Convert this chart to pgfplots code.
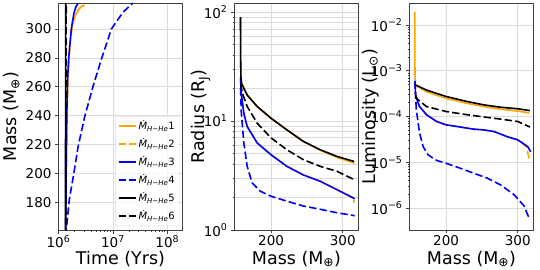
\documentclass[border=0pt]{standalone}
\usepackage{pgfplots}
\pgfplotsset{compat=1.18}
\usepackage{fontspec}
\setmainfont{DejaVu Sans}
\definecolor{mplorange}{HTML}{FFA500}
\definecolor{mplblue}{HTML}{0000FF}
\pgfplotsset{
  base/.style={
    scale only axis, width=124pt, height=227pt,
    axis line style={draw=black!75, line width=0.8pt},
    xmajorgrids, ymajorgrids,
    major grid style={draw=black!14, line width=0.8pt},
    minor grid style={draw=black!14, line width=0.8pt},
    tick align=outside, major tick length=3.5pt, minor tick length=2pt,
    every tick/.style={black!75, line width=0.8pt},
    xtick pos=bottom, ytick pos=left,
    ticklabel style={font=\fontsize{13.5}{16}\selectfont},
    xticklabel style={inner sep=1pt, yshift=-0.5pt},
    every axis x label/.style={at={(axis description cs:0.5,-0.15)}, anchor=base, inner sep=0pt, font=\fontsize{17.5}{20}\selectfont},
    /pgf/number format/assume math mode=true,
    every axis plot/.append style={line width=1.6pt},
  },
  ylab/.style={every axis y label/.style={at={(axis description cs:#1,0.5)}, anchor=base, inner sep=0pt, rotate=90, font=\fontsize{17.5}{20}\selectfont}},
  s1/.style={mplorange, solid},
  s2/.style={mplorange, dash pattern=on 7.4pt off 3.2pt},
  s3/.style={mplblue, solid},
  s4/.style={mplblue, dash pattern=on 7.4pt off 3.2pt},
  s5/.style={black, solid},
  s6/.style={black, dash pattern=on 7.4pt off 3.2pt},
}
\begin{document}
\begin{tikzpicture}
\useasboundingbox (0,0) rectangle (540pt,270pt);
% ---------------- Panel 1 ----------------
\begin{axis}[base, ylab=-0.337, at={(58.5pt,40pt)}, anchor=south west,
  xmode=log, xmin=1e6, xmax=1.9e8, ymin=161, ymax=318,
  xtick={1e6,1e7,1e8},
  xticklabels={10\textsuperscript{6},10\textsuperscript{7},10\textsuperscript{8}},
  minor xtick={2e6,3e6,4e6,5e6,6e6,7e6,8e6,9e6,2e7,3e7,4e7,5e7,6e7,7e7,8e7,9e7},
  ytick={180,200,220,240,260,280,300},
  xlabel={Time (Yrs)}, ylabel={Mass (M\textsubscript{⊕})},
  legend style={at={(0.975,0.017)}, anchor=south east,
    font=\fontsize{10}{11}\selectfont, draw=black!15, rounded corners=2pt,
    fill=white, fill opacity=0.8, text opacity=1, row sep=3.4pt, inner sep=2.5pt},
  legend cell align=left,
  legend image post style={line width=1.6pt},
]
\addplot[s1] coordinates {(1.36e6,157) (1.38e6,200) (1.42e6,240) (1.5e6,270) (1.62e6,290) (1.8e6,303) (2.0e6,309) (2.3e6,313) (2.6e6,315.5) (3.0e6,316.5)};
\addlegendentry{\textit{Ṁ}\textsubscript{\textit{H−He}}1}
\addplot[s2] coordinates {(1.36e6,157) (1.38e6,200) (1.42e6,240) (1.5e6,270) (1.62e6,290) (1.8e6,303) (2.0e6,309) (2.3e6,313) (2.6e6,315.5) (3.0e6,316.5)};
\addlegendentry{\textit{Ṁ}\textsubscript{\textit{H−He}}2}
\addplot[s3] coordinates {(1.36e6,157) (1.38e6,200) (1.42e6,240) (1.47e6,265) (1.54e6,280) (1.72e6,300) (1.92e6,311) (2.1e6,315.5) (2.3e6,317.8)};
\addlegendentry{\textit{Ṁ}\textsubscript{\textit{H−He}}3}
\addplot[s4] coordinates {(1.34e6,157) (1.41e6,163.4) (1.58e6,182) (1.92e6,200.5) (2.3e6,219) (3.05e6,239.8) (4.33e6,260.6) (6.15e6,279.2) (9.36e6,300) (1.53e7,311.6) (2.33e7,318)};
\addlegendentry{\textit{Ṁ}\textsubscript{\textit{H−He}}4}
\addplot[s5] coordinates {(1.34e6,157) (1.345e6,200) (1.35e6,250) (1.355e6,300) (1.36e6,318)};
\addlegendentry{\textit{Ṁ}\textsubscript{\textit{H−He}}5}
\addplot[s6] coordinates {(1.36e6,157) (1.365e6,200) (1.37e6,250) (1.38e6,300) (1.39e6,318)};
\addlegendentry{\textit{Ṁ}\textsubscript{\textit{H−He}}6}
\end{axis}
% ---------------- Panel 2 ----------------
\begin{axis}[base, ylab=-0.238, at={(234.5pt,40pt)}, anchor=south west,
  ymode=log, xmin=149, xmax=322, ymin=1, ymax=121,
  xtick={200,300},
  ytick={1,10,100},
  yticklabels={10\textsuperscript{0},10\textsuperscript{1},10\textsuperscript{2}},
  minor ytick={2,3,4,5,6,7,8,9,20,30,40,50,60,70,80,90},
  yminorgrids,
  xlabel={Mass (M\textsubscript{⊕})}, ylabel={Radius (R\textsubscript{J})},
]
\addplot[s1] coordinates {(157.4,90) (157.5,40) (158,25) (159,22) (166.7,17.3) (180.6,13.6) (200,10.6) (222,8.3) (245,6.5) (268.5,5.4) (291.7,4.65) (316,4.1)};
\addplot[s2] coordinates {(157.4,24) (158.5,17) (162,11.8) (166.7,8.9) (180.6,6.3) (200,4.9) (222,3.84) (245,3.2) (268.5,2.8) (291.7,2.35) (314.8,1.95) (316,1.78)};
\addplot[s3] coordinates {(157.4,25) (158.5,18) (162,11.8) (166.7,8.9) (180.6,6.3) (200,4.9) (222,3.84) (245,3.2) (268.5,2.8) (291.7,2.35) (314.8,1.97) (316.5,1.92)};
\addplot[s4] coordinates {(157.4,20) (158.5,12) (162,6.3) (166.7,3.84) (173.6,2.7) (185,2.27) (200,2.04) (222,1.84) (245,1.66) (268.5,1.55) (291.7,1.44) (314.8,1.36) (316.5,1.35)};
\addplot[s5] coordinates {(157.4,90) (157.5,40) (158,25) (159,22) (166.7,17.3) (180.6,13.6) (200,10.6) (222,8.3) (245,6.5) (268.5,5.45) (291.7,4.74) (316,4.25)};
\addplot[s6] coordinates {(157.5,22) (160,18) (166.7,13.6) (180.6,9.55) (200,7.0) (222,5.45) (245,4.42) (268.5,3.84) (291.7,3.46) (316,2.9)};
\end{axis}
% ---------------- Panel 3 ----------------
\begin{axis}[base, ylab=-0.278, at={(409.5pt,40pt)}, anchor=south west,
  ymode=log, xmin=149, xmax=322, ymin=3.3e-7, ymax=0.0305,
  xtick={200,300},
  ytick={1e-6,1e-5,1e-4,1e-3,1e-2},
  yticklabels={10\textsuperscript{−6},10\textsuperscript{−5},10\textsuperscript{−4},10\textsuperscript{−3},10\textsuperscript{−2}},
  xlabel={Mass (M\textsubscript{⊕})}, ylabel={Luminosity (L\textsubscript{⊙})},
]
\addplot[s1] coordinates {(156.5,0.0195) (156.6,1e-3) (157,5e-4) (160,4.6e-4) (172.6,3.5e-4) (200,2.5e-4) (229,1.95e-4) (253,1.65e-4) (276,1.45e-4) (300,1.32e-4) (316,1.2e-4)};
\addplot[s2] coordinates {(156.5,6e-4) (157.5,3e-4) (160,2.2e-4) (163,1.66e-4) (172.6,1.1e-4) (186.8,7.8e-5) (200,6.6e-5) (220,5.9e-5) (238.7,5.3e-5) (253,5.1e-5) (267,4.7e-5) (286,3.6e-5) (300,3.1e-5) (312,2.2e-5) (316.5,1.1e-5)};
\addplot[s3] coordinates {(156.5,6e-4) (157.5,3e-4) (160,2.2e-4) (163,1.66e-4) (172.6,1.1e-4) (186.8,7.8e-5) (200,6.6e-5) (220,5.9e-5) (238.7,5.3e-5) (253,5.1e-5) (267,4.7e-5) (286,3.6e-5) (300,3.1e-5) (314,2.2e-5) (318,1.7e-5)};
\addplot[s4] coordinates {(156.5,6e-4) (158.5,1.4e-4) (163,4.4e-5) (168,2.2e-5) (175,1.45e-5) (186.8,1.1e-5) (200,9.5e-6) (220,7.4e-6) (238.7,5.75e-6) (257.5,4.5e-6) (276,3.2e-6) (295,1.95e-6) (309,1.1e-6) (316.5,5.6e-7)};
\addplot[s5] coordinates {(157,4.9e-4) (160,4.7e-4) (172.6,3.8e-4) (200,2.75e-4) (229,2.14e-4) (253,1.8e-4) (276,1.6e-4) (300,1.48e-4) (317,1.35e-4)};
\addplot[s6] coordinates {(157,2.9e-4) (160,2.4e-4) (172.6,1.66e-4) (200,1.29e-4) (229,1.1e-4) (253,9.8e-5) (276,8.8e-5) (300,7.8e-5) (317,5.9e-5)};
\end{axis}
\end{tikzpicture}
\end{document}
